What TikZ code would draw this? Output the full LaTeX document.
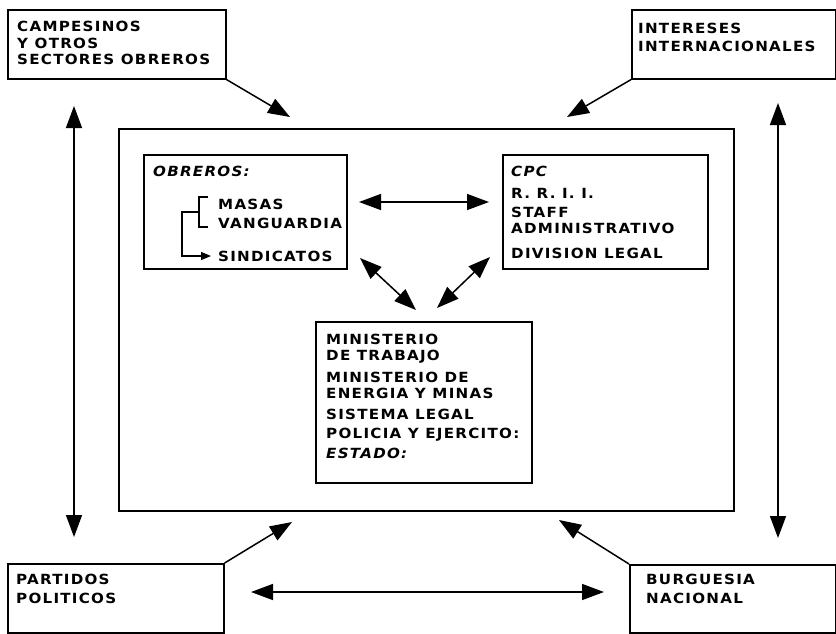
\documentclass[tikz,border=0pt]{standalone}
\usepackage{fontspec}
\setmainfont{DejaVu Sans}[LetterSpace=9, FakeStretch=1.08]
\usetikzlibrary{arrows.meta}
\begin{document}
\begin{tikzpicture}[x=1pt,y=-1pt,
  box/.style={draw, line width=1.6pt, inner sep=0pt, anchor=north west},
  lbl/.style={anchor=base west, inner sep=0pt, font=\fontsize{14}{16}\selectfont\bfseries},
  ilbl/.style={lbl, font=\fontsize{14}{16}\selectfont\bfseries\itshape},
  arr/.style={line width=1.5pt, -{Triangle[length=22pt,width=16pt]}},
  darr/.style={line width=1.5pt, {Triangle[length=22pt,width=16pt]}-{Triangle[length=22pt,width=16pt]}},
  sarr/.style={line width=1.3pt, -{Triangle[length=10pt,width=8pt]}}]

\useasboundingbox (0,0) rectangle (836,633);

% boxes
\node[box, minimum width=218pt, minimum height=69pt] (camp) at (7,9) {};
\node[box, minimum width=204pt, minimum height=69pt] (inter) at (631,9) {};
\node[box, minimum width=615pt, minimum height=382pt, line width=1.9pt] (outer) at (118,128) {};
\node[box, minimum width=203pt, minimum height=114pt] (obr) at (143,154) {};
\node[box, minimum width=205pt, minimum height=114pt] (cpc) at (502,154) {};
\node[box, minimum width=216pt, minimum height=161pt] (est) at (315,321) {};
\node[box, minimum width=216pt, minimum height=69pt] (part) at (7,563) {};
\node[box, minimum width=206pt, minimum height=68pt] (burg) at (629,564) {};

% texts
\node[lbl] (c1) at (17,31.3) {CAMPESINOS};
\node[lbl] (c2) at (17,48.3) {Y OTROS};
\node[lbl] (c3) at (17,64.3) {SECTORES OBREROS};

\node[lbl] (i1) at (638,33.3) {INTERESES};
\node[lbl] (i2) at (638,51.3) {INTERNACIONALES};

\node[ilbl] (o0) at (153,176.3) {OBREROS:};
\node[lbl] (o1) at (218,209.3) {MASAS};
\node[lbl] (o2) at (218,228.3) {VANGUARDIA};
\node[lbl] (o3) at (218,261.3) {SINDICATOS};

\node[ilbl] (p0) at (511,176.3) {CPC};
\node[lbl] (p1) at (511,198.3) {R. R. I. I.};
\node[lbl] (p2) at (511,217.3) {STAFF};
\node[lbl] (p3) at (511,233.3) {ADMINISTRATIVO};
\node[lbl] (p4) at (511,258.3) {DIVISION LEGAL};

\node[lbl] (e1) at (326,344.3) {MINISTERIO};
\node[lbl] (e2) at (326,360.3) {DE TRABAJO};
\node[lbl] (e3) at (326,382.3) {MINISTERIO DE};
\node[lbl] (e4) at (326,398.3) {ENERGIA Y MINAS};
\node[lbl] (e5) at (326,419.3) {SISTEMA LEGAL};
\node[lbl] (e6) at (326,438.3) {POLICIA Y EJERCITO:};
\node[ilbl] (e7) at (326,458.3) {ESTADO:};

\node[lbl] (pa1) at (16,584.3) {PARTIDOS};
\node[lbl] (pa2) at (16,603.3) {POLITICOS};

\node[lbl] (b1) at (646,584.3) {BURGUESIA};
\node[lbl] (b2) at (646,603.3) {NACIONAL};

% bracket inside OBREROS
\draw[line width=1.3pt] (208,197) -- (199,197) -- (199,227) -- (208,227);
\coordinate (brk) at (199,212);
\coordinate (sindtip) at (211,256);
\draw[sarr] (brk) -- (182,212) -- (182,256) -- (sindtip);

% free arrow ends
\coordinate (t1) at (290,117);
\coordinate (t2) at (567,117);
\coordinate (lv1) at (74,106);
\coordinate (lv2) at (74,537);
\coordinate (rv1) at (778,103);
\coordinate (rv2) at (778,538);
\coordinate (t3) at (292,522);
\coordinate (t4) at (559,520);
\coordinate (bh1) at (251,592);
\coordinate (bh2) at (604,592);
\coordinate (mh1) at (359,202);
\coordinate (mh2) at (489,202);
\coordinate (d1a) at (360,258);
\coordinate (d1b) at (416,310);
\coordinate (d2a) at (490,257);
\coordinate (d2b) at (437,308);

% connectors
\draw[arr] (camp.south east) -- (t1);
\draw[arr] (inter.south west) -- (t2);
\draw[arr] (part.north east) -- (t3);
\draw[arr] (burg.north west) -- (t4);
\draw[darr] (lv1) -- (lv2);
\draw[darr] (rv1) -- (rv2);
\draw[darr] (bh1) -- (bh2);
\draw[darr] (mh1) -- (mh2);
\draw[darr] (d1a) -- (d1b);
\draw[darr] (d2a) -- (d2b);
\end{tikzpicture}
\end{document}
